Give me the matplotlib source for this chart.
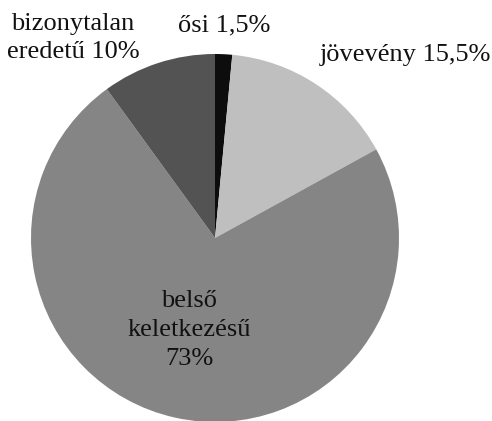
import matplotlib
matplotlib.use("Agg")
import matplotlib.pyplot as plt

categories = ["ősi", "jövevény", "belső keletkezésű", "bizonytalan eredetű"]
values = [1.5, 15.5, 73, 10]
labels = ["ősi 1,5%", "jövevény 15,5%", "belső\nkeletkezésű\n73%", "bizonytalan\neredetű 10%"]
colors = ["#0d0d0d", "#bfbfbf", "#858585", "#535353"]

plt.rcParams['font.family'] = ['Liberation Serif', 'DejaVu Serif']

W, H = 492, 421
fig = plt.figure(figsize=(W / 100, H / 100), dpi=100)
cx, cy, r = 215, 238, 184
ax = fig.add_axes([(cx - r) / W, (H - cy - r) / H, 2 * r / W, 2 * r / H])
ax.pie(values, colors=colors, startangle=90, counterclock=False, radius=1,
       wedgeprops=dict(linewidth=0))
ax.set_xlim(-1, 1)
ax.set_ylim(-1, 1)
ax.set_aspect('equal')
ax.axis('off')

def px(x, y):
    return ((x - cx) / r, (cy - y) / r)

label_pos = [(224, 25), (405, 55), (189, 330), (73, 38)]
for lab, (x, y) in zip(labels, label_pos):
    dx, dy = px(x, y)
    ax.text(dx, dy, lab, ha='center', va='center', fontsize=19, linespacing=1.4,
            color='#111111', clip_on=False)

fig.savefig("out.png", dpi=100)
